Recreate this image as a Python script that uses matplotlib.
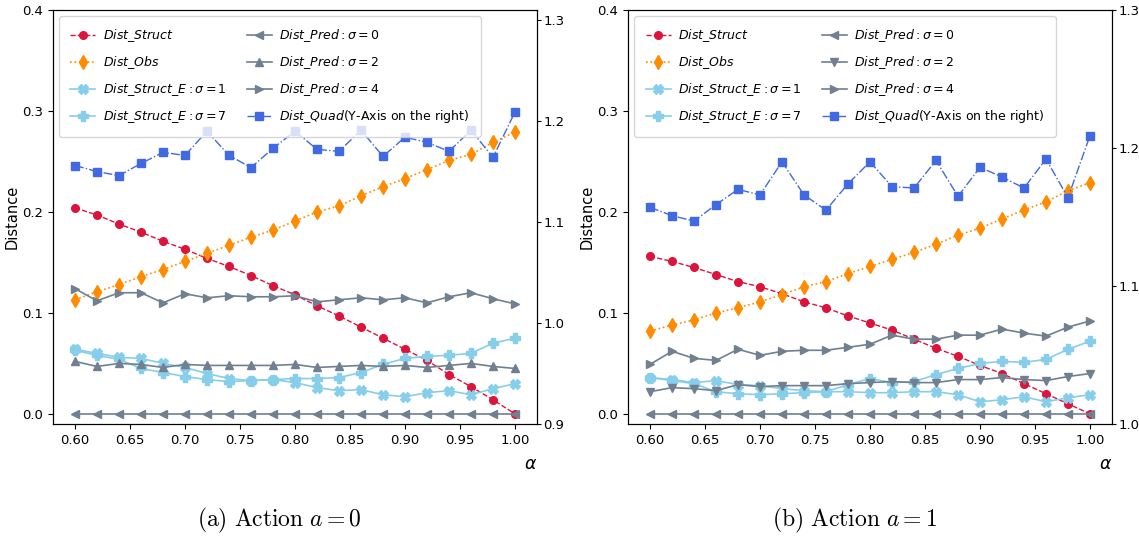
import matplotlib
matplotlib.use('Agg')
import matplotlib.pyplot as plt

alpha = [0.60, 0.62, 0.64, 0.66, 0.68, 0.70, 0.72, 0.74, 0.76, 0.78, 0.80,
         0.82, 0.84, 0.86, 0.88, 0.90, 0.92, 0.94, 0.96, 0.98, 1.00]

# panel (a): action a = 0
struct_a = [0.204, 0.197, 0.188, 0.180, 0.171, 0.163, 0.154, 0.146, 0.137, 0.127, 0.118,
            0.107, 0.097, 0.086, 0.075, 0.064, 0.053, 0.039, 0.027, 0.014, 0.000]
obs_a = [0.113, 0.121, 0.128, 0.136, 0.143, 0.151, 0.159, 0.167, 0.175, 0.182, 0.191,
         0.200, 0.206, 0.216, 0.225, 0.233, 0.242, 0.251, 0.257, 0.269, 0.279]
struct_e1_a = [0.064, 0.060, 0.056, 0.055, 0.050, 0.046, 0.040, 0.035, 0.033, 0.034, 0.031,
               0.026, 0.023, 0.024, 0.019, 0.017, 0.021, 0.023, 0.019, 0.025, 0.030]
struct_e7_a = [0.063, 0.058, 0.054, 0.045, 0.041, 0.037, 0.034, 0.032, 0.033, 0.034, 0.035,
               0.035, 0.036, 0.041, 0.049, 0.055, 0.057, 0.058, 0.060, 0.070, 0.075]
pred0_a = [0.0] * 21
pred2_a = [0.052, 0.047, 0.050, 0.049, 0.046, 0.049, 0.048, 0.048, 0.048, 0.048, 0.049,
           0.046, 0.047, 0.048, 0.047, 0.048, 0.046, 0.048, 0.050, 0.047, 0.045]
pred4_a = [0.124, 0.112, 0.120, 0.120, 0.110, 0.119, 0.115, 0.117, 0.116, 0.116, 0.117,
           0.111, 0.113, 0.115, 0.113, 0.115, 0.110, 0.116, 0.120, 0.114, 0.109]
quad_a = [1.156, 1.150, 1.146, 1.158, 1.169, 1.166, 1.190, 1.166, 1.154, 1.173, 1.190,
          1.172, 1.170, 1.191, 1.165, 1.184, 1.179, 1.170, 1.191, 1.164, 1.209]

# panel (b): action a = 1
struct_b = [0.156, 0.151, 0.145, 0.138, 0.131, 0.126, 0.119, 0.111, 0.105, 0.097, 0.090,
            0.083, 0.074, 0.065, 0.057, 0.048, 0.040, 0.030, 0.020, 0.010, 0.000]
obs_b = [0.082, 0.088, 0.093, 0.100, 0.105, 0.111, 0.118, 0.126, 0.131, 0.139, 0.146,
         0.153, 0.160, 0.168, 0.177, 0.184, 0.193, 0.202, 0.210, 0.221, 0.229]
struct_e1_b = [0.036, 0.034, 0.031, 0.033, 0.029, 0.028, 0.025, 0.023, 0.022, 0.022, 0.021,
               0.021, 0.022, 0.022, 0.019, 0.012, 0.014, 0.017, 0.012, 0.016, 0.019]
struct_e7_b = [0.036, 0.033, 0.030, 0.022, 0.020, 0.019, 0.020, 0.021, 0.022, 0.029, 0.035,
               0.031, 0.032, 0.039, 0.045, 0.050, 0.052, 0.051, 0.054, 0.064, 0.072]
pred0_b = [0.0] * 21
pred2_b = [0.022, 0.026, 0.025, 0.023, 0.029, 0.027, 0.028, 0.028, 0.028, 0.030, 0.031,
           0.032, 0.031, 0.031, 0.034, 0.034, 0.036, 0.034, 0.033, 0.037, 0.040]
pred4_b = [0.049, 0.062, 0.055, 0.053, 0.064, 0.058, 0.062, 0.063, 0.063, 0.066, 0.069,
           0.078, 0.074, 0.074, 0.078, 0.078, 0.084, 0.080, 0.077, 0.086, 0.092]
quad_b = [1.157, 1.151, 1.147, 1.159, 1.170, 1.166, 1.190, 1.166, 1.155, 1.174, 1.190,
          1.172, 1.171, 1.191, 1.165, 1.186, 1.179, 1.171, 1.192, 1.164, 1.209]

panels = [
    dict(struct=struct_a, obs=obs_a, e1=struct_e1_a, e7=struct_e7_a, p0=pred0_a,
         p2=pred2_a, p4=pred4_a, quad=quad_a, p2marker='^', ylim2=(0.9, 1.31),
         yticks2=[0.9, 1.0, 1.1, 1.2, 1.3], left=53, caption=r'$\mathrm{(a)\ Action}\ a=0$', cx=0.245),
    dict(struct=struct_b, obs=obs_b, e1=struct_e1_b, e7=struct_e7_b, p0=pred0_b,
         p2=pred2_b, p4=pred4_b, quad=quad_b, p2marker='v', ylim2=(1.0, 1.3),
         yticks2=[1.0, 1.1, 1.2, 1.3], left=628, caption=r'$\mathrm{(b)\ Action}\ a=1$', cx=0.750),
]

W, H = 1139, 540
fig = plt.figure(figsize=(W / 100, H / 100), dpi=100)
fs = 9.5

for p in panels:
    ax = fig.add_axes([p['left'] / W, 1 - 424 / H, 484 / W, 414 / H])
    ax2 = ax.twinx()

    h = []
    h += ax.plot(alpha, p['struct'], '--', color='crimson', marker='o', ms=5.5, lw=1,
                 label=r'$Dist\_Struct$')
    h += ax.plot(alpha, p['obs'], ':', color='darkorange', marker='d', ms=7.5, lw=1.2,
                 label=r'$Dist\_Obs$')
    h += ax.plot(alpha, p['e1'], '-', color='skyblue', marker='X', ms=6.5, lw=1.2,
                 label=r'$Dist\_Struct\_E: \sigma=1$')
    h += ax.plot(alpha, p['e7'], '-', color='skyblue', marker='P', ms=7, lw=1.2,
                 label=r'$Dist\_Struct\_E: \sigma=7$')
    h += ax.plot(alpha, p['p0'], '-', color='slategray', marker='<', ms=6, lw=1.2,
                 label=r'$Dist\_Pred: \sigma=0$')
    h += ax.plot(alpha, p['p2'], '-', color='slategray', marker=p['p2marker'], ms=6, lw=1.2,
                 label=r'$Dist\_Pred: \sigma=2$')
    h += ax.plot(alpha, p['p4'], '-', color='slategray', marker='>', ms=6, lw=1.2,
                 label=r'$Dist\_Pred: \sigma=4$')
    h += ax2.plot(alpha, p['quad'], '-.', color='royalblue', marker='s', ms=5.5, lw=1,
                  label=r'$Dist\_Quad$(Y-Axis on the right)')

    ax.set_xlim(0.58, 1.02)
    ax.set_xticks([0.60, 0.65, 0.70, 0.75, 0.80, 0.85, 0.90, 0.95, 1.00])
    ax.set_xticklabels(['%.2f' % t for t in ax.get_xticks()], fontsize=fs)
    ax.set_ylim(-0.01, 0.4)
    ax.set_yticks([0.0, 0.1, 0.2, 0.3, 0.4])
    ax.set_yticklabels(['%.1f' % t for t in ax.get_yticks()], fontsize=fs)
    ax.set_ylabel('Distance', fontsize=fs + 1, labelpad=2)
    ax.set_xlabel(r'$\alpha$', fontsize=fs + 3, loc='right', labelpad=6)

    ax2.set_ylim(*p['ylim2'])
    ax2.set_yticks(p['yticks2'])
    ax2.set_yticklabels(['%.1f' % t for t in p['yticks2']], fontsize=fs)
    ax2.tick_params(axis='y', pad=1.5, length=3)

    ax2.legend(handles=h, ncol=2, loc='upper left', fontsize=9, labelspacing=0.8,
               columnspacing=1.6, borderpad=0.9, handletextpad=0.6)

    fig.text(p['cx'], 0.037, p['caption'], ha='center', va='center', fontsize=17,
             math_fontfamily='cm')

fig.savefig('out.png', dpi=100)
